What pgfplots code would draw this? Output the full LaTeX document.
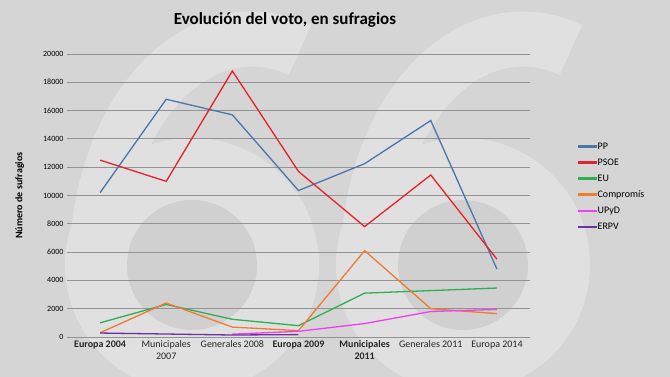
\documentclass[border=0pt]{standalone}
\usepackage{pgfplots}
\pgfplotsset{compat=1.18}
\usepackage{fontspec}
\setmainfont{Carlito}
\definecolor{bgc}{HTML}{D5D5D5}
\definecolor{wm}{HTML}{E0E0E0}
\definecolor{wmd}{HTML}{D0D0D0}
\definecolor{cPP}{HTML}{4A76A8}
\definecolor{cPSOE}{HTML}{E8202A}
\definecolor{cEU}{HTML}{2EB050}
\definecolor{cCOM}{HTML}{F07A30}
\definecolor{cUPYD}{HTML}{EE40EE}
\definecolor{cERPV}{HTML}{7030A0}
\begin{document}
\begin{tikzpicture}
\path[use as bounding box, clip] (0pt,0pt) rectangle (670pt,377pt);
\fill[bgc] (0pt,0pt) rectangle (670pt,377pt);
% watermark "66"
\foreach \cx in {192,463}{
  \fill[wm] (\cx pt,112pt) circle (127pt);
  \draw[wm,line width=55pt] (\cx pt,112pt) ++(-95pt,0pt) arc[start angle=180,end angle=72,x radius=155pt,y radius=226pt];
  \fill[wmd] (\cx pt,112pt) circle (65pt);
}
\node[font=\bfseries\fontsize{17}{20}\selectfont] at (285pt,357pt) {Evolución del voto, en sufragios};
\begin{axis}[
  at={(67pt,40pt)}, anchor=south west,
  scale only axis, width=463pt, height=283pt,
  xmin=-0.5, xmax=6.5, ymin=0, ymax=20000,
  xtick={0,...,6},
  xticklabels={\textbf{Europa 2004},Municipales\\2007,Generales 2008,\textbf{Europa 2009},\textbf{Municipales}\\\textbf{2011},Generales 2011,Europa 2014},
  xticklabel style={align=center, font=\fontsize{10}{12}\selectfont, text=black!85},
  ytick={0,2000,...,20000},
  yticklabel style={font=\fontsize{8}{9}\selectfont},
  scaled y ticks=false,
  /pgf/number format/assume math mode=true,
  yticklabel={\pgfmathprintnumber[fixed,1000 sep={}]{\tick}},
  ymajorgrids, grid style={gray!85, line width=0.8pt},
  axis line style={draw=none},
  major tick length=0pt,
  ylabel={\textbf{Número de sufragios}},
  ylabel style={font=\fontsize{10}{12}\selectfont, at={(axis description cs:-0.085,0.5)}},
  legend style={at={(axis description cs:1.104,0.69)}, anchor=north west, draw=none, fill=none, font=\fontsize{10}{12}\selectfont, row sep=6pt, inner sep=0pt, nodes={inner sep=1pt}},
  legend cell align=left,
  legend image code/.code={\fill[#1] (0pt,-0.8pt) rectangle (17pt,0.8pt);},
  every axis plot/.append style={line width=1.3pt},
  clip=false,
]
\addplot[cPP] coordinates {(0,10200) (1,16800) (2,15700) (3,10350) (4,12250) (5,15300) (6,4800)};
\addlegendentry{PP}
\addplot[cPSOE] coordinates {(0,12500) (1,11000) (2,18800) (3,11700) (4,7800) (5,11450) (6,5500)};
\addlegendentry{PSOE}
\addplot[cEU] coordinates {(0,1000) (1,2300) (2,1250) (3,800) (4,3100) (5,3280) (6,3460)};
\addlegendentry{EU}
\addplot[cCOM] coordinates {(0,300) (1,2400) (2,700) (3,450) (4,6100) (5,2000) (6,1650)};
\addlegendentry{Compromís}
\addplot[cUPYD] coordinates {(2,200) (3,400) (4,950) (5,1800) (6,1950)};
\addlegendentry{UPyD}
\addplot[cERPV] coordinates {(0,280) (1,210) (2,140) (3,170)};
\addlegendentry{ERPV}
\end{axis}
\end{tikzpicture}
\end{document}
